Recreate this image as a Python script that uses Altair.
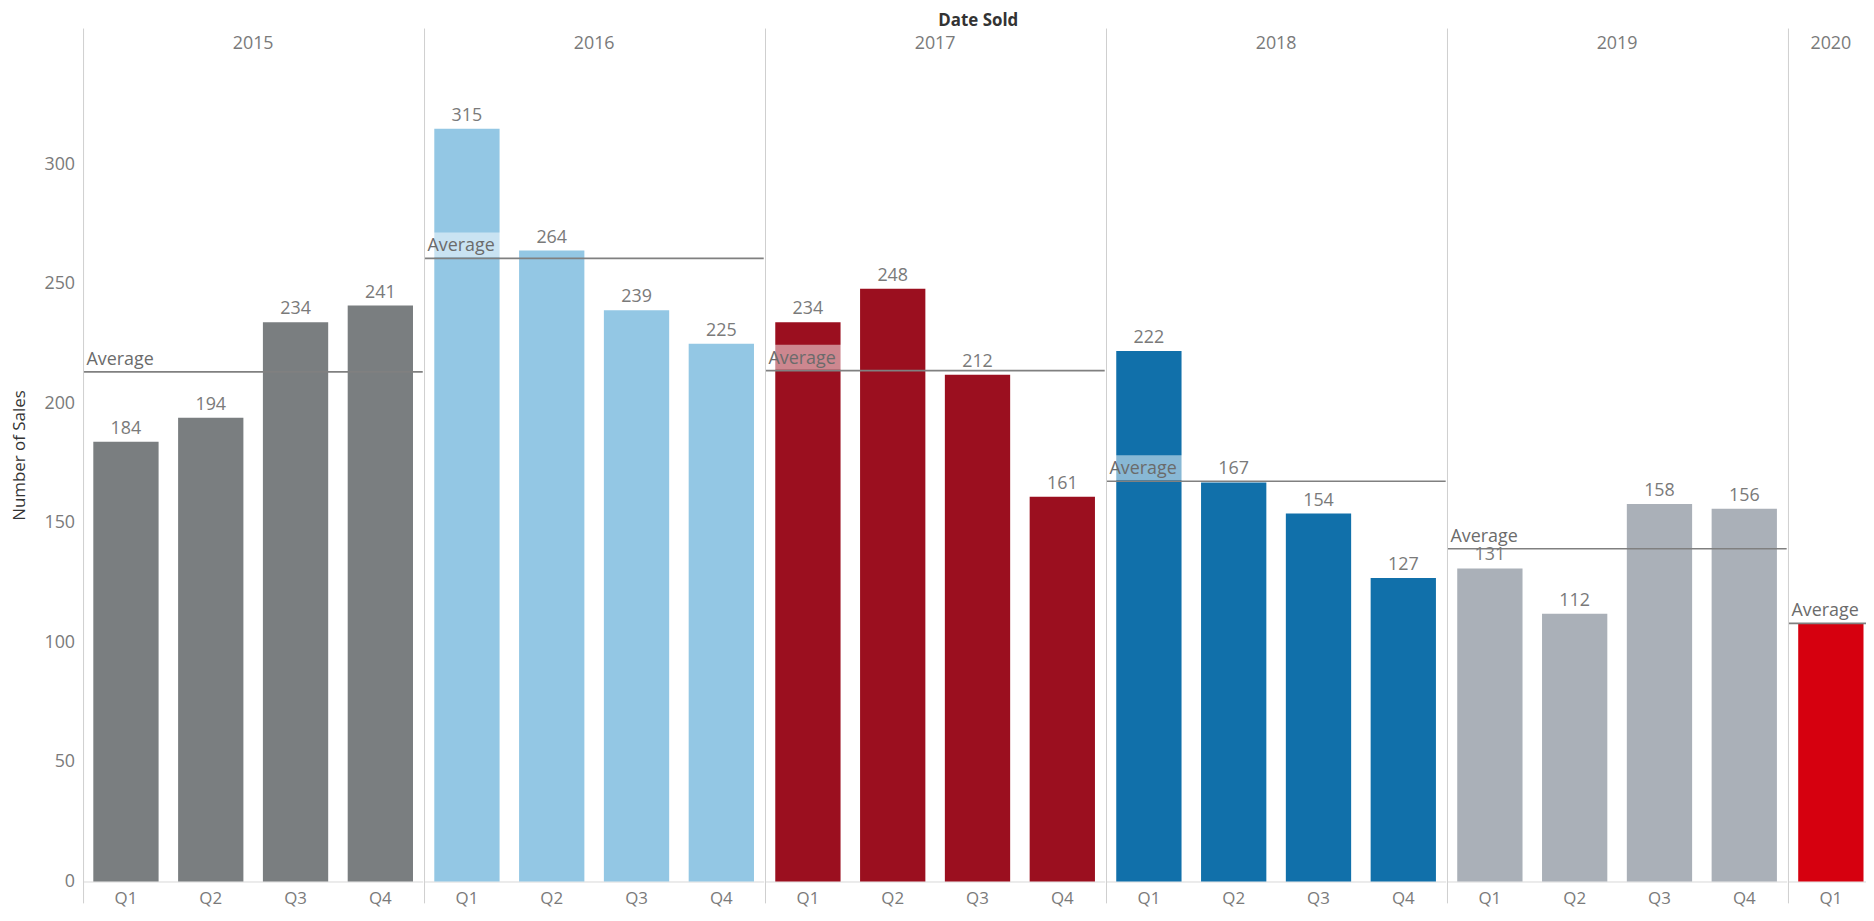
import altair as alt
import pandas as pd

# ---- data ----
year_list = ["2015", "2016", "2017", "2018", "2019", "2020"]
years = ["2015"] * 4 + ["2016"] * 4 + ["2017"] * 4 + ["2018"] * 4 + ["2019"] * 4 + ["2020"]
quarters = ["Q1", "Q2", "Q3", "Q4"] * 5 + ["Q1"]
sales = [184, 194, 234, 241,
         315, 264, 239, 225,
         234, 248, 212, 161,
         222, 167, 154, 127,
         131, 112, 158, 156,
         108]
year_colors = ["#7a7e80", "#93c7e4", "#9b0f1f", "#1170aa", "#aab0b8", "#d6000f"]
y_ticks = [0, 50, 100, 150, 200, 250, 300]

df = pd.DataFrame({"year": years, "quarter": quarters, "sales": sales})

FONT = "Open Sans"
STEP = 85.3
H = 858
YMAX = 356.9
PANEL_W = STEP * 4
GRAY = "#7a7a7a"

y_scale = alt.Scale(domain=[0, YMAX], nice=False, zero=True)
x_enc = alt.X(
    "quarter:N",
    sort=["Q1", "Q2", "Q3", "Q4"],
    scale=alt.Scale(paddingInner=0.23, paddingOuter=0.115),
    axis=alt.Axis(title=None, labelAngle=0, ticks=False, domain=True,
                  domainColor="#d9d9d9", labelColor=GRAY, labelFontSize=17,
                  labelFont=FONT, labelPadding=9),
)
y_title = "Number of Sales"

base = alt.Chart(df)

bars = base.mark_bar().encode(
    x=x_enc,
    y=alt.Y("sales:Q", scale=y_scale, title=y_title,
            axis=alt.Axis(values=y_ticks, grid=False, ticks=False, domain=False,
                          labelColor=GRAY, labelFontSize=18, labelFont=FONT,
                          labelPadding=8, titleFont=FONT, titleFontSize=17,
                          titleFontWeight="normal", titleColor="#333333",
                          titlePadding=16)),
    color=alt.Color("year:N", scale=alt.Scale(domain=year_list, range=year_colors), legend=None),
)

value_labels = base.transform_filter("datum.year != '2020'").mark_text(
    baseline="bottom", dy=-4, fontSize=18, font=FONT, color=GRAY
).encode(
    x=x_enc,
    y=alt.Y("sales:Q", scale=y_scale, title=y_title),
    text="sales:Q",
)

agg = base.transform_aggregate(avg="mean(sales)", groupby=["year"])

avg_box = agg.mark_rect(color="white", opacity=0.5, yOffset=-1, y2Offset=-26).encode(
    x=alt.value(2), x2=alt.value(77),
    y=alt.Y("avg:Q", scale=y_scale, title=y_title), y2="avg:Q",
)

avg_rule = agg.mark_rule(color="#808080", strokeWidth=1.6).encode(
    y=alt.Y("avg:Q", scale=y_scale, title=y_title),
)

avg_text = agg.mark_text(align="left", baseline="bottom", dx=3, dy=-3,
                         fontSize=18, font=FONT, color="#6b6b6b").encode(
    x=alt.value(0),
    y=alt.Y("avg:Q", scale=y_scale, title=y_title),
    text=alt.value("Average"),
)

dividers = agg.mark_rule(color="#cfcfcf", strokeWidth=1).encode(
    x=alt.value(0), y=alt.value(0), y2=alt.value(H + 22),
)

year_text_full = agg.transform_filter("datum.year != '2020'").mark_text(
    baseline="middle", align="center", fontSize=18, font=FONT, color=GRAY
).encode(x=alt.value(PANEL_W / 2), y=alt.value(16), text="year:N")

year_text_2020 = agg.transform_filter("datum.year == '2020'").mark_text(
    baseline="middle", align="center", fontSize=18, font=FONT, color=GRAY
).encode(x=alt.value(STEP / 2), y=alt.value(16), text="year:N")

layer = alt.layer(
    bars, avg_box, avg_rule, avg_text, value_labels, dividers, year_text_full, year_text_2020
).properties(width=alt.Step(STEP), height=H)

chart = layer.facet(
    column=alt.Column(
        "year:N", sort=year_list,
        header=alt.Header(labels=False, title="Date Sold", titleFont=FONT,
                          titleFontSize=17, titleFontWeight="bold", titleColor="#333333",
                          titlePadding=-12),
    ),
    spacing=0,
).resolve_scale(x="independent").properties(
    padding={"left": 2, "top": 1, "right": -9, "bottom": 0}
).configure_view(stroke=None)

chart.save("out.html", embed_options={"renderer": "svg", "actions": False})
